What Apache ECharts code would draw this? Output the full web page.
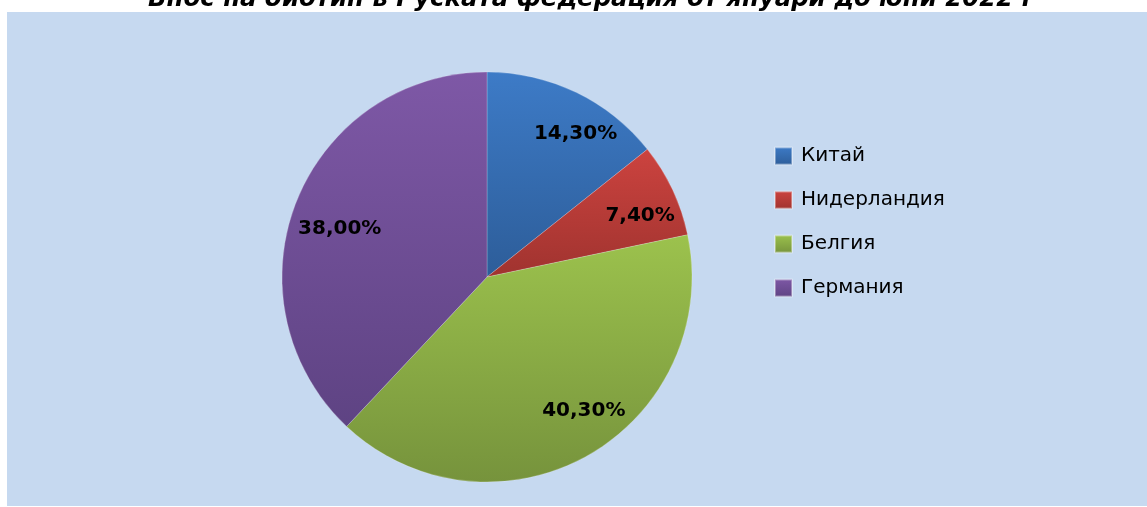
<!DOCTYPE html>
<html>
<head>
<meta charset="utf-8">
<script src="https://cdn.jsdelivr.net/npm/echarts@6/dist/echarts.min.js"></script>
<style>
html,body{margin:0;padding:0;background:#ffffff;}
#chart{width:1147px;height:507px;}
</style>
</head>
<body>
<div id="chart"></div>
<script>
const titleText = 'Внос на биотин в Руската федерация от януари до юни 2022 г';
const categories = ['Китай', 'Нидерландия', 'Белгия', 'Германия'];
const shares = [14.3, 7.4, 40.3, 38.0];
const colorTop = ['#3d7bc7', '#cc433f', '#9cc24d', '#7e58a6'];
const colorBottom = ['#2d5d99', '#a0332f', '#76933c', '#5e4383'];
const labelNudge = [[16, 7], [2, 10], [15, -12], [8, 13]];

function grad(i) {
  return new echarts.graphic.LinearGradient(0, 0, 0, 1, [
    { offset: 0, color: colorTop[i] },
    { offset: 1, color: colorBottom[i] }
  ]);
}

const mainData = categories.map((n, i) => ({ name: n, value: shares[i], itemStyle: { color: grad(i) } }));
const labelData = categories.map((n, i) => ({ name: n, value: shares[i], label: { offset: labelNudge[i] } }));

const chart = echarts.init(document.getElementById('chart'), null, { renderer: 'canvas' });
chart.setOption({
  animation: false,
  backgroundColor: '#ffffff',
  graphic: [{
    type: 'rect',
    left: 7, top: 12,
    shape: { width: 1140, height: 494 },
    style: { fill: '#c6d9f0' },
    z: -10, silent: true
  }],
  title: {
    text: titleText,
    left: 143,
    top: -17,
    padding: 5,
    textStyle: {
      fontFamily: 'DejaVu Sans',
      fontSize: 24.4,
      fontWeight: 'bold',
      fontStyle: 'italic',
      color: '#000000'
    }
  },
  legend: {
    orient: 'vertical',
    left: 774,
    top: 146,
    padding: 0,
    itemWidth: 17,
    itemHeight: 17,
    itemGap: 24,
    icon: 'rect',
    data: categories,
    textStyle: {
      fontFamily: 'DejaVu Sans',
      fontSize: 20,
      lineHeight: 20,
      padding: [0, 0, 0, 4],
      color: '#000000'
    }
  },
  series: [
    {
      type: 'pie',
      center: [487, 277],
      radius: [0, 205],
      startAngle: 90,
      clockwise: true,
      data: mainData,
      label: { show: false },
      labelLine: { show: false },
      itemStyle: { borderColor: 'rgba(255,255,255,0.35)', borderWidth: 0.6 },
      emphasis: { disabled: true }
    },
    {
      type: 'pie',
      center: [487, 277],
      radius: [123, 205],
      startAngle: 90,
      clockwise: true,
      silent: true,
      data: labelData,
      itemStyle: { color: 'rgba(0,0,0,0)' },
      emphasis: { disabled: true },
      labelLine: { show: false },
      label: {
        show: true,
        position: 'inside',
        formatter: p => p.value.toFixed(2).replace('.', ',') + '%',
        fontFamily: 'DejaVu Sans',
        fontSize: 20,
        fontWeight: 'bold',
        color: '#000000'
      }
    }
  ]
});
</script>
</body>
</html>
